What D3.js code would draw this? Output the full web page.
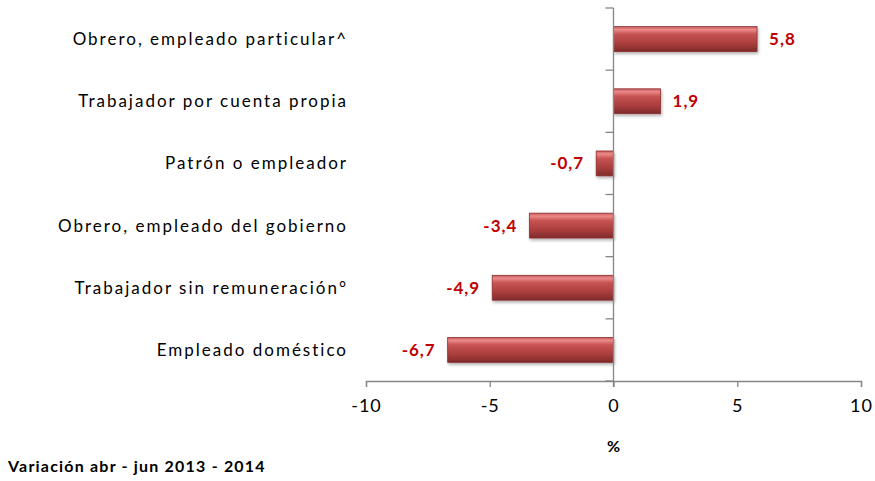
<!DOCTYPE html>
<html>
<head>
<meta charset="utf-8">
<script src="https://cdnjs.cloudflare.com/ajax/libs/d3/7.8.5/d3.min.js"></script>
<style>
  body { margin: 0; background: #fff; }
  text { font-family: Lato, "Open Sans", sans-serif; }
</style>
</head>
<body>
<div id="chart"></div>
<script>
// data
var categories = [
  "Obrero, empleado particular^",
  "Trabajador por cuenta propia",
  "Patrón o empleador",
  "Obrero, empleado del gobierno",
  "Trabajador sin remuneración°",
  "Empleado doméstico"
];
var values = [5.8, 1.9, -0.7, -3.4, -4.9, -6.7];
var xTicks = [-10, -5, 0, 5, 10];
var axisTitle = "%";
var note = "Variación abr - jun 2013 - 2014";

var w = 875, h = 481;
var svg = d3.select("#chart").append("svg")
  .attr("width", w).attr("height", h);

var defs = svg.append("defs");
var grad = defs.append("linearGradient")
  .attr("id", "barGrad").attr("x1", 0).attr("x2", 0).attr("y1", 0).attr("y2", 1);
grad.append("stop").attr("offset", "0%").attr("stop-color", "#c85a5a");
grad.append("stop").attr("offset", "12%").attr("stop-color", "#ec8a8a");
grad.append("stop").attr("offset", "30%").attr("stop-color", "#c85353");
grad.append("stop").attr("offset", "70%").attr("stop-color", "#a83c3c");
grad.append("stop").attr("offset", "100%").attr("stop-color", "#7e2a2a");

var shadow = defs.append("filter").attr("id", "shadow")
  .attr("x", "-10%").attr("y", "-20%").attr("width", "130%").attr("height", "160%");
shadow.append("feDropShadow").attr("dx", 1).attr("dy", 2).attr("stdDeviation", 1.5)
  .attr("flood-color", "#000").attr("flood-opacity", 0.3);

var x = d3.scaleLinear().domain([-10, 10]).range([366, 861]);
var y = d3.scaleBand().domain(categories).range([8, 381]).paddingInner(0.6).paddingOuter(0.3);

var axisColor = "#868686";
var fmt = function(d) { return d3.format(".1f")(d).replace(".", ",").replace("\u2212", "-"); };

// bars
svg.selectAll("rect.bar")
  .data(values)
  .enter()
  .append("rect")
  .attr("class", "bar")
  .attr("x", function(d) { return x(Math.min(0, d)); })
  .attr("y", function(d, i) { return y(categories[i]); })
  .attr("width", function(d) { return Math.abs(x(d) - x(0)); })
  .attr("height", y.bandwidth())
  .attr("fill", "url(#barGrad)")
  .attr("stroke", "#8a3030")
  .attr("stroke-width", 0.8)
  .attr("filter", "url(#shadow)");

// x axis
var xAxis = svg.append("g")
  .attr("transform", "translate(0,381)")
  .call(d3.axisBottom(x).tickValues(xTicks).tickSize(6).tickPadding(12)
    .tickFormat(function(d) { return String(d); }));
xAxis.select(".domain").attr("stroke", axisColor).attr("stroke-width", 1.3);
xAxis.selectAll(".tick line").attr("stroke", axisColor).attr("stroke-width", 1.3);
xAxis.selectAll(".tick text").attr("font-size", 18).attr("fill", "#000")
  .style("font-family", "Lato, sans-serif").style("letter-spacing", "1px");

// y axis at zero
var yAxis = svg.append("g").attr("transform", "translate(" + x(0) + ",0)");
yAxis.append("line")
  .attr("x1", 0).attr("x2", 0).attr("y1", 8).attr("y2", 387)
  .attr("stroke", axisColor).attr("stroke-width", 1.3);
var bounds = categories.map(function(c) { return y(c) - y.step() * y.paddingInner() / 2; });
bounds.push(381);
yAxis.selectAll("line.tick")
  .data(bounds)
  .enter()
  .append("line")
  .attr("class", "tick")
  .attr("x1", -8).attr("x2", 0)
  .attr("y1", function(d) { return d; })
  .attr("y2", function(d) { return d; })
  .attr("stroke", axisColor).attr("stroke-width", 1.3);

// category labels
svg.selectAll("text.cat")
  .data(categories)
  .enter()
  .append("text")
  .attr("class", "cat")
  .attr("x", 348)
  .attr("y", function(d) { return y(d) + y.bandwidth() / 2; })
  .attr("dy", "0.35em")
  .attr("text-anchor", "end")
  .attr("font-size", 17)
  .style("letter-spacing", "2px")
  .attr("fill", "#000")
  .text(function(d) { return d; });

// value labels
svg.selectAll("text.val")
  .data(values)
  .enter()
  .append("text")
  .attr("class", "val")
  .attr("x", function(d) { return d >= 0 ? x(d) + 12 : x(d) - 12; })
  .attr("y", function(d, i) { return y(categories[i]) + y.bandwidth() / 2; })
  .attr("dy", "0.35em")
  .attr("text-anchor", function(d) { return d >= 0 ? "start" : "end"; })
  .attr("font-size", 17)
  .style("letter-spacing", "1px")
  .attr("font-weight", "bold")
  .attr("fill", "#c00000")
  .text(fmt);

// axis title
svg.append("text")
  .attr("x", x(0)).attr("y", 452)
  .attr("text-anchor", "middle")
  .attr("font-size", 16).attr("font-weight", "bold")
  .text(axisTitle);

// note
svg.append("text")
  .attr("x", 8).attr("y", 472)
  .attr("font-size", 16).attr("font-weight", "bold")
  .style("letter-spacing", "1.2px")
  .text(note);
</script>
</body>
</html>
